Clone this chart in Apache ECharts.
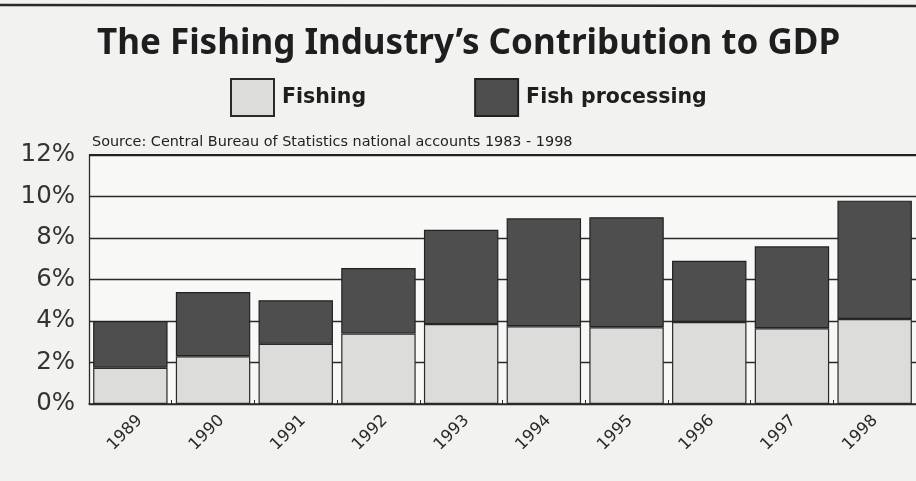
<!DOCTYPE html>
<html>
<head>
<meta charset="utf-8">
<script src="https://cdn.jsdelivr.net/npm/echarts@6/dist/echarts.min.js"></script>
<style>
  html, body { margin: 0; padding: 0; background: #f2f2f1; }
  #chart { width: 916px; height: 481px; }
</style>
</head>
<body>
<div id="chart"></div>
<script>
// Share of GDP (%) by year
const years = ['1989', '1990', '1991', '1992', '1993', '1994', '1995', '1996', '1997', '1998'];
const fishing = [1.75, 2.3, 2.9, 3.4, 3.85, 3.75, 3.7, 3.95, 3.65, 4.1];
const fishProcessing = [2.25, 3.1, 2.1, 3.15, 4.55, 5.2, 5.3, 2.95, 3.95, 5.7];
const yTicks = { min: 0, max: 12, interval: 2 };

const titleText = 'The Fishing Industry\u2019s Contribution to GDP';
const sourceText = 'Source: Central Bureau of Statistics national accounts 1983 - 1998';

const chart = echarts.init(document.getElementById('chart'), null, { renderer: 'canvas' });

const gridMain = { left: 89, right: -1, top: 155, bottom: 77 };

chart.setOption({
  backgroundColor: '#f2f2f1',
  animation: false,
  title: [
    {
      text: titleText,
      left: 97,
      top: 27,
      padding: 0,
      textStyle: { fontFamily: 'Noto Sans', fontWeight: 'bold', fontSize: 35, color: '#1e1e1e' }
    },
    {
      text: sourceText,
      left: 92,
      top: 135,
      padding: 0,
      textStyle: { fontFamily: 'DejaVu Sans', fontWeight: 'normal', fontSize: 14.4, color: '#222' }
    }
  ],
  legend: {
    left: 230,
    top: 78,
    padding: 0,
    itemWidth: 43,
    itemHeight: 37,
    itemGap: 108,
    icon: 'rect',
    textStyle: { fontFamily: 'DejaVu Sans', fontWeight: 'bold', fontSize: 20.5, color: '#1e1e1e', padding: [0, 0, 0, 3] },
    data: ['Fishing', 'Fish processing']
  },
  graphic: [
    {
      type: 'line',
      shape: { x1: 0, y1: 5, x2: 916, y2: 6 },
      style: { stroke: '#2a2a2a', lineWidth: 2.5 },
      silent: true
    }
  ],
  grid: [
    Object.assign({ show: true, backgroundColor: '#f8f8f7', borderWidth: 0 }, gridMain),
    { left: gridMain.left + 10, right: gridMain.right - 10, top: gridMain.top, bottom: gridMain.bottom }
  ],
  xAxis: [
    {
      type: 'category',
      gridIndex: 0,
      data: years,
      boundaryGap: true,
      axisLine: { show: true, lineStyle: { color: '#2a2a2a', width: 1.5 } },
      axisTick: { show: true, inside: true, length: 4, lineStyle: { color: '#2a2a2a', width: 1 } },
      axisLabel: { show: false }
    },
    {
      // label row, nudged right of the category centres
      type: 'category',
      gridIndex: 1,
      data: years,
      boundaryGap: true,
      axisLine: { show: false },
      axisTick: { show: false },
      axisLabel: {
        rotate: 45,
        margin: 14,
        fontFamily: 'DejaVu Sans',
        fontSize: 16.5,
        color: '#2a2a2a'
      }
    }
  ],
  yAxis: [
    {
      type: 'value',
      gridIndex: 0,
      min: yTicks.min,
      max: yTicks.max,
      interval: yTicks.interval,
      axisLine: { show: true, lineStyle: { color: '#2a2a2a', width: 1.3 } },
      axisTick: { show: false },
      axisLabel: {
        margin: 14,
        formatter: '{value}%',
        fontFamily: 'DejaVu Sans',
        fontSize: 24.5,
        color: '#333'
      },
      splitLine: { show: true, lineStyle: { color: '#2a2a2a', width: 1.3 } }
    },
    {
      type: 'value',
      gridIndex: 1,
      min: yTicks.min,
      max: yTicks.max,
      show: false
    }
  ],
  series: [
    {
      name: 'Fishing',
      type: 'bar',
      stack: 'gdp',
      xAxisIndex: 0,
      yAxisIndex: 0,
      barCategoryGap: '10%',
      data: fishing,
      itemStyle: { color: '#dcdcdb', borderColor: '#2a2a2a', borderWidth: 1.2 },
      markLine: {
        silent: true,
        symbol: 'none',
        label: { show: false },
        lineStyle: { color: '#222', width: 2.2, type: 'solid' },
        data: [{ yAxis: yTicks.max }]
      }
    },
    {
      name: 'Fish processing',
      type: 'bar',
      stack: 'gdp',
      xAxisIndex: 0,
      yAxisIndex: 0,
      barCategoryGap: '10%',
      data: fishProcessing,
      itemStyle: { color: '#4e4e4e', borderColor: '#222', borderWidth: 1.2 }
    }
  ]
});
</script>
</body>
</html>
